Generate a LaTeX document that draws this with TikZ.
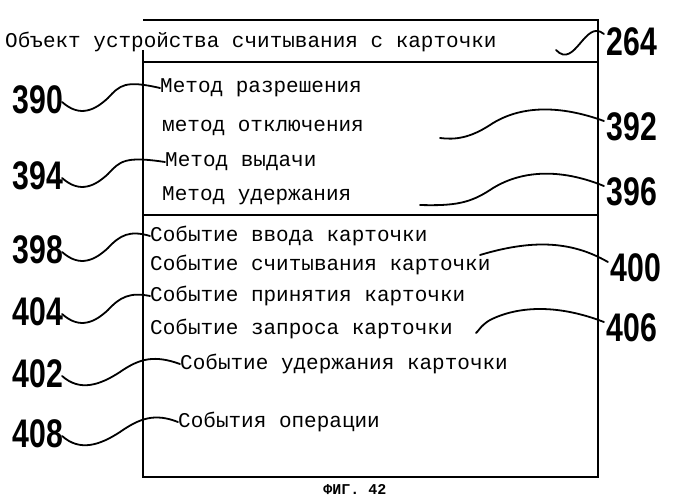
\documentclass[tikz,border=0pt]{standalone}
\usepackage{fontspec}
\setmonofont{Liberation Mono}
\setsansfont{Liberation Sans}
\usetikzlibrary{positioning}
\tikzset{
  row/.style={anchor=west, inner sep=0pt, font=\ttfamily\fontsize{21}{21}\selectfont},
  num/.style={inner sep=1pt, font=\sffamily\bfseries\fontsize{42}{42}\selectfont, xscale=0.72, yscale=0.95},
  lead/.style={line width=1.8pt, line cap=round},
}
\begin{document}
\begin{tikzpicture}[x=1pt, y=-1pt]
        \useasboundingbox (0,0) rectangle (688,500);
        % Box
        \draw[line width=1.2pt] (143,50) -- (143,477) -- (598,477) -- (598,20) -- (143,20);
        \draw[line width=1.2pt] (143,62) -- (598,62);
        \draw[line width=1.2pt] (143,215) -- (598,215);
        % Texts
        \node[row] (title) at (5,42) {Объект устройства считывания с карточки};
        \node[row] (t1) at (160,88) {Метод разрешения};
        \node[row] (t2) at (162,128) {метод отключения};
        \node[row] (t3) at (165,162) {Метод выдачи};
        \node[row] (t4) at (162,196) {Метод удержания};
        \node[row] (t5) at (150,236) {Событие ввода карточки};
        \node[row] (t6) at (150,265) {Событие считывания карточки};
        \node[row] (t7) at (150,296) {Событие принятия карточки};
        \node[row] (t8) at (150,329) {Событие запроса карточки};
        \node[row] (t9) at (180,364) {Событие удержания карточки};
        \node[row] (t10) at (178,422) {События операции};
        % Numbers
        \node[num] (n264) at (632,42) {264};
        \node[num] (n390) at (38,100) {390};
        \node[num] (n392) at (632,127) {392};
        \node[num] (n394) at (38,176) {394};
        \node[num] (n396) at (632,192) {396};
        \node[num] (n398) at (38,250) {398};
        \node[num] (n400) at (636,268) {400};
        \node[num] (n404) at (38,312) {404};
        \node[num] (n406) at (632,328) {406};
        \node[num] (n402) at (38,374) {402};
        \node[num] (n408) at (38,434) {408};
        \node[font=\ttfamily\bfseries\fontsize{15}{15}\selectfont] (fig) at (355,490) {ФИГ. 42};
        % Leaders
        \draw[lead] (n264.west) ++(-2,-8) coordinate (a264)
          (a264) .. controls (585,18) and (575,70) .. (556,50);
        \draw[lead] (n390.east) ++(-2,2) coordinate (a390)
          (a390) .. controls (80,118) and (95,110) .. (108,98) .. controls (120,85) and (125,80) .. (t1.west);
        \draw[lead] (n392.west) ++(-2,-6) coordinate (a392)
          (a392) .. controls (560,105) and (520,105) .. (490,125) .. controls (470,138) and (455,140) .. (440,138);
        \draw[lead] (n394.east) ++(-2,2) coordinate (a394)
          (a394) .. controls (80,194) and (95,186) .. (108,174) .. controls (120,161) and (125,156) .. (t3.west);
        \draw[lead] (n396.west) ++(-2,-6) coordinate (a396)
          (a396) .. controls (560,168) and (520,170) .. (490,190) .. controls (470,203) and (455,206) .. (420,205);
        \draw[lead] (n398.east) ++(-2,2) coordinate (a398)
          (a398) .. controls (80,268) and (95,260) .. (108,248) .. controls (120,235) and (130,230) .. (t5.west);
        \draw[lead] (n400.west) ++(-2,-6) coordinate (a400)
          (a400) .. controls (570,240) and (530,240) .. (480,255);
        \draw[lead] (n404.east) ++(-2,2) coordinate (a404)
          (a404) .. controls (80,330) and (95,322) .. (108,310) .. controls (120,297) and (130,292) .. (t7.west);
        \draw[lead] (n406.west) ++(-2,-6) coordinate (a406)
          (a406) .. controls (560,305) and (520,305) .. (490,320) .. controls (480,326) and (478,332) .. (476,333);
        \draw[lead] (n402.east) ++(-2,2) coordinate (a402)
          (a402) .. controls (80,392) and (100,385) .. (120,372) .. controls (140,358) and (155,355) .. (t9.west);
        \draw[lead] (n408.east) ++(-2,2) coordinate (a408)
          (a408) .. controls (80,452) and (100,445) .. (120,432) .. controls (140,418) and (155,413) .. (t10.west);
\end{tikzpicture}
\end{document}
